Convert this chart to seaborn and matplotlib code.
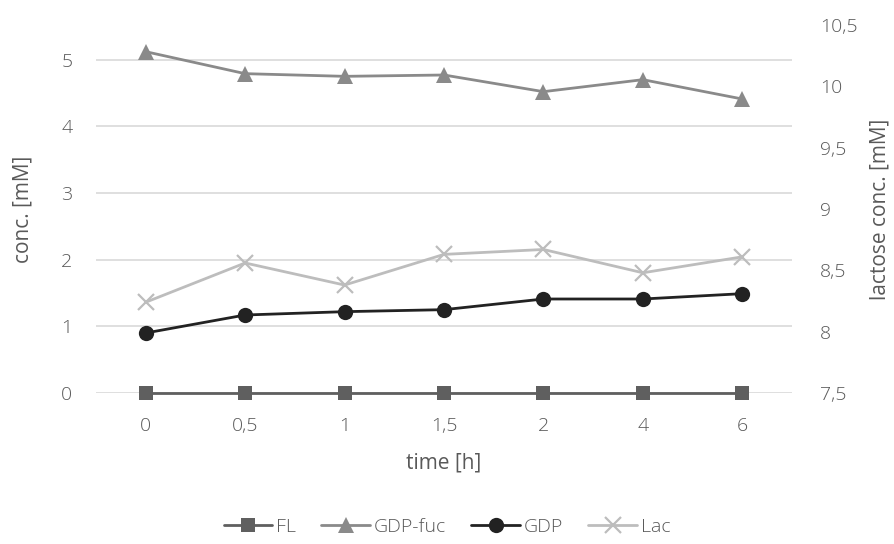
import matplotlib
matplotlib.use("Agg")
import matplotlib.pyplot as plt
from matplotlib.lines import Line2D
import seaborn as sns
import pandas as pd

time_labels = ["0", "0,5", "1", "1,5", "2", "4", "6"]
fl = [0, 0, 0, 0, 0, 0, 0]
gdp_fuc = [5.12, 4.79, 4.75, 4.77, 4.52, 4.70, 4.41]
gdp = [0.90, 1.17, 1.22, 1.25, 1.41, 1.41, 1.49]
lac = [8.24, 8.56, 8.38, 8.63, 8.67, 8.48, 8.61]

left_ticks = [0, 1, 2, 3, 4, 5]
right_ticks = [7.5, 8, 8.5, 9, 9.5, 10, 10.5]

sns.set_theme(style="white")
plt.rcParams['font.family'] = ['Open Sans', 'DejaVu Sans']
plt.rcParams['font.weight'] = 'light'
TXT = "#595959"

pos = list(range(len(time_labels)))
df = pd.DataFrame({"pos": pos, "FL": fl, "GDP-fuc": gdp_fuc, "GDP": gdp, "Lac": lac})

fig = plt.figure(figsize=(8.94, 5.44), dpi=100)
ax = fig.add_axes([96/894, 1-393/544, (792-96)/894, (393-25)/544])
ax2 = ax.twinx()

styles = {
    "FL": dict(color="#5f5f5f", marker="s", ms=10, lw=2.0),
    "GDP-fuc": dict(color="#8a8a8a", marker="^", ms=11, lw=2.0),
    "GDP": dict(color="#222222", marker="o", ms=11, lw=2.0),
    "Lac": dict(color="#bdbdbd", marker="x", ms=11, lw=2.0, mew=1.6),
}

for name in ["FL", "GDP-fuc", "GDP"]:
    st = styles[name]
    sns.lineplot(data=df, x="pos", y=name, ax=ax, color=st["color"], marker=st["marker"],
                 markersize=st["ms"], linewidth=st["lw"], markeredgewidth=0, zorder=3,
                 clip_on=False)
st = styles["Lac"]
sns.lineplot(data=df, x="pos", y="Lac", ax=ax2, color=st["color"], marker="x",
             markersize=st["ms"], linewidth=st["lw"], markeredgewidth=st["mew"],
             markeredgecolor=st["color"], zorder=3, clip_on=False)

ax.set_xlim(-0.5, len(pos) - 0.5)
ax.set_ylim(0, 5.52)
ax2.set_ylim(7.5, 10.5)
ax.set_yticks(left_ticks)
ax.set_yticklabels([str(t) for t in left_ticks])
ax2.set_yticks(right_ticks)
ax2.set_yticklabels([f"{t:g}".replace(".", ",") for t in right_ticks])
ax.set_xticks(pos)
ax.set_xticklabels(time_labels)

ax.grid(axis="y", color="#d9d9d9", lw=1.2, zorder=0)
ax.set_axisbelow(True)
for a in (ax, ax2):
    for s in a.spines.values():
        s.set_visible(False)
    a.tick_params(length=0, labelsize=14, colors=TXT)
ax.tick_params(axis="y", pad=17)
ax.tick_params(axis="x", pad=17)
ax2.tick_params(axis="y", pad=20)
ax2.set_zorder(ax.get_zorder() + 1)
ax2.patch.set_visible(False)

ax.set_xlabel("time [h]", fontsize=15, color=TXT, labelpad=13)
ax.set_ylabel("conc. [mM]", fontsize=15, color=TXT, labelpad=20)
ax2.set_ylabel("lactose conc. [mM]", fontsize=15, color=TXT, labelpad=9)

handles = []
for name in ["FL", "GDP-fuc", "GDP", "Lac"]:
    st = styles[name]
    handles.append(Line2D([], [], color=st["color"], marker=st["marker"], markersize=st["ms"],
                          lw=st["lw"], markeredgewidth=st.get("mew", 0),
                          markeredgecolor=st["color"], label=name))
fig.legend(handles=handles, loc="center", bbox_to_anchor=(0.5, 1-527/544), ncol=4,
           frameon=False, fontsize=14, labelcolor=TXT, handlelength=2.5,
           handletextpad=0.2, columnspacing=1.3)

fig.savefig("out.png", dpi=100)
